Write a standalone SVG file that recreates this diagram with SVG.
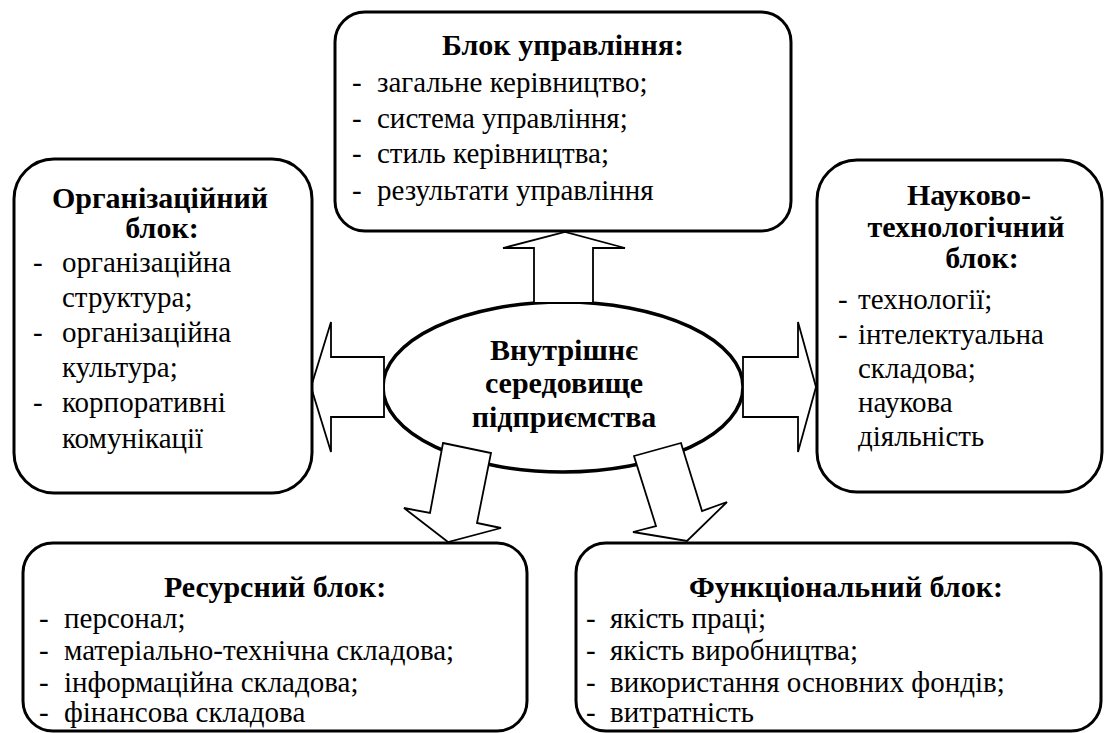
<svg xmlns="http://www.w3.org/2000/svg" width="1104" height="733" viewBox="0 0 1104 733" font-family="'Liberation Serif', 'Times New Roman', Tinos, 'DejaVu Serif', serif">
<style>
.box{fill:#fff;stroke:#000;stroke-width:3}
.ell{fill:#fff;stroke:#000;stroke-width:3.5}
.arr{fill:#fff;stroke:#000;stroke-width:1.8;stroke-linejoin:miter}
text{font-family:'Liberation Serif', 'Times New Roman', Tinos, 'DejaVu Serif', serif;font-size:29px;fill:#000}
.h{font-weight:bold;font-size:30px;text-anchor:middle}
</style>
<rect width="1104" height="733" fill="#fff"/>
<g id="center">
<ellipse class="ell" cx="563" cy="387" rx="180" ry="85"/>
<text class="h" x="564" y="360">Внутрішнє</text>
<text class="h" x="564" y="393">середовище</text>
<text class="h" x="564" y="427">підприємства</text>
</g>
<g id="connectors">
<polygon class="arr" points="534,303 534,248 503,248 565,232 625,248 593,248 593,303"/>
<polygon class="arr" points="384,357 331,357 331,322 311,387 331,452 331,417 384,417"/>
<polygon class="arr" points="743,357 798,357 798,322 816,387 798,452 798,417 743,417"/>
<polygon class="arr" points="443,443 491,453 477,523 501,528 448,542 404,508 430,513"/>
<polygon class="arr" points="634,456 681,443 702,511 727,502 687,541 633,532 656,526"/>
</g>
<g id="management">
<rect class="box" x="335" y="12" width="456" height="219" rx="30"/>
<text class="h" x="563" y="55">Блок управління:</text>
<text x="352" y="92">-</text><text x="377" y="92">загальне керівництво;</text>
<text x="352" y="128">-</text><text x="377" y="128">система управління;</text>
<text x="352" y="163">-</text><text x="377" y="163">стиль керівництва;</text>
<text x="352" y="200">-</text><text x="377" y="200">результати управління</text>
</g>
<g id="organizational">
<rect class="box" x="14" y="159" width="298" height="334" rx="40"/>
<text class="h" x="160" y="208">Організаційний</text>
<text class="h" x="162" y="238">блок:</text>
<text x="33" y="272">-</text><text x="62" y="272">організаційна</text>
<text x="62" y="307">структура;</text>
<text x="33" y="342">-</text><text x="62" y="342">організаційна</text>
<text x="62" y="377">культура;</text>
<text x="33" y="412">-</text><text x="62" y="412">корпоративні</text>
<text x="62" y="448">комунікації</text>
</g>
<g id="scitech">
<rect class="box" x="817" y="160" width="285" height="332" rx="40"/>
<text class="h" x="969" y="205">Науково-</text>
<text class="h" x="966" y="237">технологічний</text>
<text class="h" x="982" y="268">блок:</text>
<text x="838" y="309">-</text><text x="858" y="309">технології;</text>
<text x="838" y="344">-</text><text x="858" y="344">інтелектуальна</text>
<text x="858" y="378">складова;</text>
<text x="858" y="412">наукова</text>
<text x="858" y="446">діяльність</text>
</g>
<g id="resource">
<rect class="box" x="23" y="543" width="504" height="188" rx="30"/>
<text class="h" x="275" y="597">Ресурсний блок:</text>
<text x="39" y="628">-</text><text x="64" y="628">персонал;</text>
<text x="39" y="660">-</text><text x="64" y="660">матеріально-технічна складова;</text>
<text x="39" y="692">-</text><text x="64" y="692">інформаційна складова;</text>
<text x="39" y="722">-</text><text x="64" y="722">фінансова складова</text>
</g>
<g id="functional">
<rect class="box" x="576" y="543" width="525" height="188" rx="30"/>
<text class="h" x="846" y="597">Функціональний блок:</text>
<text x="586" y="628">-</text><text x="610" y="628">якість праці;</text>
<text x="586" y="660">-</text><text x="610" y="660">якість виробництва;</text>
<text x="586" y="692">-</text><text x="610" y="692">використання основних фондів;</text>
<text x="586" y="722">-</text><text x="610" y="722">витратність</text>
</g>
</svg>
